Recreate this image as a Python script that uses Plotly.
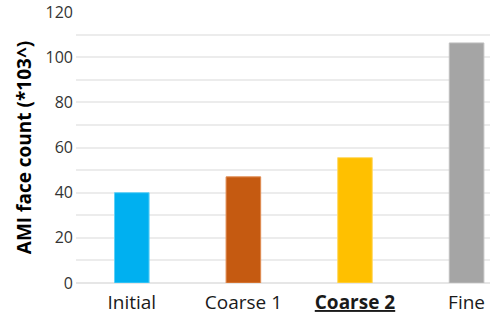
import plotly.graph_objects as go

# Face counts of the AMI mesh at each refinement level (thousands)
categories = ["Initial", "Coarse 1", "<b><u>Coarse 2</u></b>", "Fine"]
face_counts = [40, 47, 55.5, 106.3]
bar_colors = ["#00b0f0", "#c55a11", "#ffc000", "#a5a5a5"]
outline_colors = ["#5fd0f7", "#e08a50", "#ffd966", "#bfbfbf"]
y_ticks = [0, 20, 40, 60, 80, 100, 120]

fig = go.Figure(
    go.Bar(
        x=categories,
        y=face_counts,
        marker=dict(color=bar_colors, line=dict(color=outline_colors, width=1)),
        width=0.31,
    )
)

font_family = "Open Sans, Noto Sans, sans-serif"

fig.update_layout(
    width=490,
    height=320,
    margin=dict(l=76, r=0, t=12, b=37),
    paper_bgcolor="white",
    plot_bgcolor="white",
    showlegend=False,
    font=dict(family=font_family, color="#404040", size=15),
)

fig.update_xaxes(
    range=[-0.5, 3.21],
    showgrid=False,
    showline=False,
    ticks="",
    ticklabelstandoff=6,
    tickfont=dict(size=19, color="#1a1a1a"),
)

fig.update_yaxes(
    range=[0, 120],
    tickvals=y_ticks,
    ticktext=[str(v) for v in y_ticks],
    showgrid=True,
    gridcolor="#ececec",
    gridwidth=1.5,
    minor=dict(dtick=10, showgrid=True, gridcolor="#ececec", gridwidth=1.5),
    zeroline=True,
    zerolinecolor="#e6e6e6",
    zerolinewidth=1.5,
    ticks="",
    ticklabelstandoff=2,
    tickfont=dict(size=16, color="#333333"),
    title=dict(
        text="<b>AMI face count (*103^)</b>",
        font=dict(size=19, color="#000000"),
        standoff=8,
    ),
)

fig.write_html("out.html")
